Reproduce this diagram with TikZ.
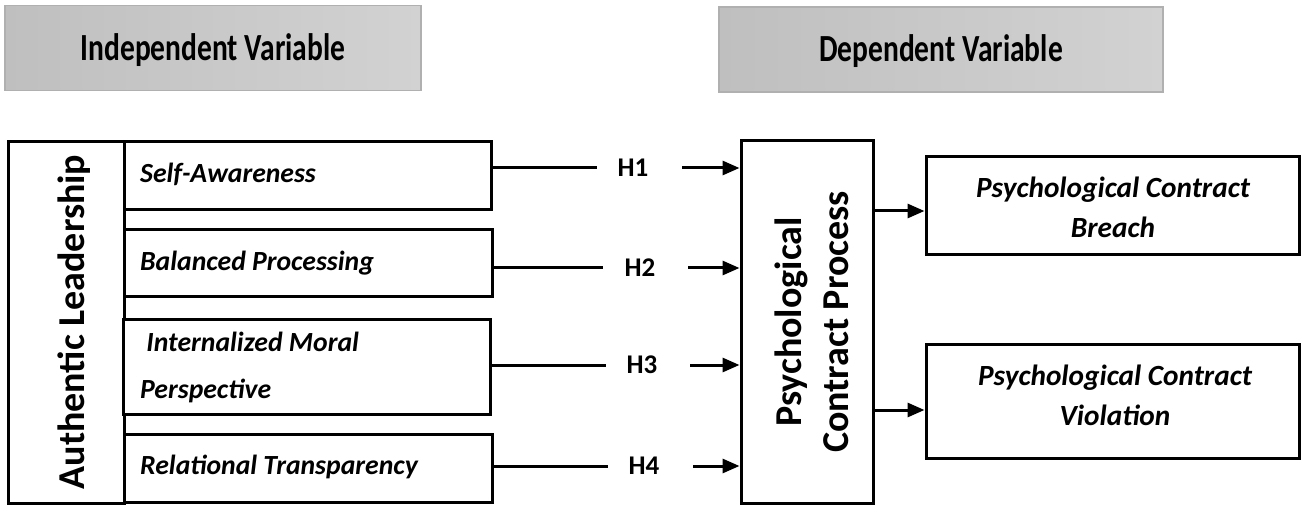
\documentclass[tikz,border=0pt]{standalone}
\usepackage{fontspec}
\setmainfont{Carlito}
\usetikzlibrary{arrows.meta}
\definecolor{hdrL}{HTML}{BFBFBF}
\definecolor{hdrR}{HTML}{D2D2D2}
\definecolor{hdrB}{HTML}{B0B0B0}
\tikzset{
  hdr/.style={draw=hdrB, line width=1.2pt, left color=hdrL, right color=hdrR, inner sep=0pt},
  hdrtext/.style={font=\bfseries\fontsize{29.5}{34}\selectfont, inner sep=0pt},
  box/.style={draw=black, line width=3pt, fill=white, inner sep=0pt},
  boxtext/.style={font=\bfseries\itshape\fontsize{27.7}{47}\selectfont, inner sep=0pt, anchor=west, align=left},
  rtext/.style={font=\bfseries\itshape\fontsize{29.3}{40}\selectfont, inner sep=0pt, align=center},
  vtext/.style={font=\bfseries\fontsize{38}{47}\selectfont, inner sep=0pt, rotate=90, align=center},
  hlabel/.style={font=\bfseries\fontsize{27}{30}\selectfont, inner sep=0pt},
  link/.style={line width=3pt},
  arr/.style={line width=3pt, -{Triangle[length=17pt,width=14pt]}}
}
\begin{document}
\begin{tikzpicture}[x=1pt,y=-1pt]
\useasboundingbox (0,0) rectangle (1302,505);
% headers
\node[hdr, minimum width=416, minimum height=85] (hdrI) at (213,48) {};
\node[hdrtext] (hdrIt) at (213,50) {\scalebox{1}[1.3]{Independent Variable}};
\node[hdr, minimum width=444, minimum height=85] (hdrD) at (941,49.5) {};
\node[hdrtext] (hdrDt) at (941,51) {\scalebox{1}[1.3]{Dependent Variable}};
% left
\node[box, minimum width=116, minimum height=361] (al) at (66,322.5) {};
\node[vtext] (alt) at (74,322) {Authentic Leadership};
\node[box, minimum width=367, minimum height=68] (sa) at (307.5,176) {};
\node[boxtext] (sat) at (140,174) {Self-Awareness};
\node[box, minimum width=368, minimum height=67] (bp) at (308,263.5) {};
\node[boxtext] (bpt) at (140,263) {Balanced Processing};
\node[box, minimum width=367, minimum height=95] (im) at (306.5,366.5) {};
\node[boxtext] (imt) at (140,367) {\ Internalized Moral\\Perspective};
\node[box, minimum width=368, minimum height=68] (rt) at (308,468) {};
\node[boxtext] (rtt) at (140,467) {Relational Transparency};
% central
\node[box, minimum width=132, minimum height=362] (pcp) at (807,322) {};
\node[vtext] (pcpt) at (812,322) {Psychological\\Contract Process};
% right
\node[box, minimum width=373, minimum height=98] (br) at (1112.5,206) {};
\node[rtext] (brt) at (1113,207) {Psychological Contract\\Breach};
\node[box, minimum width=373, minimum height=114] (vi) at (1112.5,401) {};
\node[rtext] (vit) at (1115,395) {Psychological Contract\\Violation};
% hypothesis labels
\node[hlabel] (h1) at (633,168) {H1};
\node[hlabel] (h2) at (640,268) {H2};
\node[hlabel] (h3) at (642,365) {H3};
\node[hlabel] (h4) at (644,466) {H4};
% line ends
\coordinate (e1) at (597,168);
\coordinate (s1) at (682,168);
\coordinate (e2) at (603,268);
\coordinate (s2) at (688,268);
\coordinate (e3) at (606,365);
\coordinate (s3) at (690,365);
\coordinate (e4) at (608,466);
\coordinate (s4) at (693,466);
\coordinate (o1) at (0,211);
\coordinate (o2) at (0,410);
\draw[link] (sa.east |- h1) -- (e1);
\draw[arr] (s1) -- (pcp.west |- h1);
\draw[link] (bp.east |- h2) -- (e2);
\draw[arr] (s2) -- (pcp.west |- h2);
\draw[link] (im.east |- h3) -- (e3);
\draw[arr] (s3) -- (pcp.west |- h3);
\draw[link] (rt.east |- h4) -- (e4);
\draw[arr] (s4) -- (pcp.west |- h4);
\draw[arr] (pcp.east |- o1) -- (br.west |- o1);
\draw[arr] (pcp.east |- o2) -- (vi.west |- o2);
\end{tikzpicture}
\end{document}
